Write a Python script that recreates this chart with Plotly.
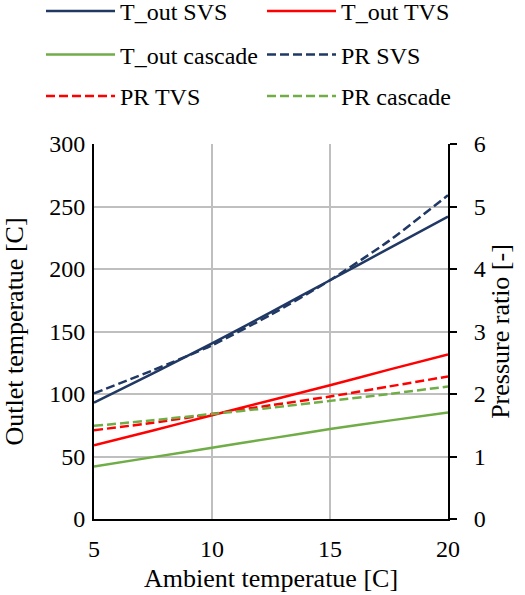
import plotly.graph_objects as go

x = [5, 7.5, 10, 12.5, 15, 17.5, 20]
t_out_svs = [93, 116.5, 140.5, 165.5, 191, 216.5, 242]
t_out_tvs = [59, 70.8, 83, 95, 107, 119.5, 131.7]
t_out_cascade = [42, 49.5, 57, 64.5, 72, 78.7, 85.3]
pr_svs = [2.01, 2.38, 2.78, 3.27, 3.82, 4.45, 5.18]
pr_tvs = [1.42, 1.54, 1.68, 1.82, 1.96, 2.12, 2.28]
pr_cascade = [1.49, 1.58, 1.68, 1.78, 1.89, 2.0, 2.12]

navy = "#203864"
red = "#ff0000"
green = "#70ad47"
FONT = "Liberation Serif"
TF = dict(family=FONT, size=24, color="black")
TITLEF = dict(family=FONT, size=26, color="black")
DASH = "9px,4px"

fig = go.Figure()
fig.add_trace(go.Scatter(x=x, y=t_out_svs, name="T_out SVS", mode="lines", legend="legend",
                         line=dict(color=navy, width=2.5, shape="spline", smoothing=0.6)))
fig.add_trace(go.Scatter(x=x, y=t_out_tvs, name="T_out TVS", mode="lines", legend="legend2",
                         line=dict(color=red, width=2.5, shape="spline", smoothing=0.6)))
fig.add_trace(go.Scatter(x=x, y=t_out_cascade, name="T_out cascade", mode="lines", legend="legend3",
                         line=dict(color=green, width=2.5, shape="spline", smoothing=0.6)))
fig.add_trace(go.Scatter(x=x, y=pr_svs, name="PR SVS", mode="lines", yaxis="y2", legend="legend4",
                         line=dict(color=navy, width=2.5, dash=DASH, shape="spline", smoothing=0.6)))
fig.add_trace(go.Scatter(x=x, y=pr_tvs, name="PR TVS", mode="lines", yaxis="y2", legend="legend5",
                         line=dict(color=red, width=2.5, dash=DASH, shape="spline", smoothing=0.6)))
fig.add_trace(go.Scatter(x=x, y=pr_cascade, name="PR cascade", mode="lines", yaxis="y2", legend="legend6",
                         line=dict(color=green, width=2.5, dash=DASH, shape="spline", smoothing=0.6)))

col_x = [-0.1497, 0.4746]
row_y = [1.3535, 1.2373, 1.1269]
legend_pos = [(0, 0), (1, 0), (0, 1), (1, 1), (0, 2), (1, 2)]
legend_names = ["legend", "legend2", "legend3", "legend4", "legend5", "legend6"]


def leg(cx, ry):
    return dict(x=col_x[cx], y=row_y[ry], xref="paper", yref="paper", xanchor="left", yanchor="middle",
                orientation="v", itemwidth=69, font=TF, bgcolor="rgba(0,0,0,0)", borderwidth=0)


layout_legends = {name: leg(cx, ry) for name, (cx, ry) in zip(legend_names, legend_pos)}

fig.update_layout(
    width=525, height=595,
    margin=dict(l=94, r=77, t=144, b=76, autoexpand=False),
    paper_bgcolor="white", plot_bgcolor="white",
    font=TF,
    showlegend=True,
    **layout_legends,
    xaxis=dict(range=[5, 20], tickvals=[5, 10, 15, 20], showgrid=True, gridcolor="#bfbfbf", gridwidth=1.5,
               showline=True, linecolor="black", linewidth=2, ticks="", zeroline=False,
               tickfont=TF, ticklabelstandoff=7,
               title=dict(text="Ambient temperatue [C]", standoff=8, font=TITLEF)),
    yaxis=dict(range=[0, 300], dtick=50, showgrid=True, gridcolor="#bfbfbf", gridwidth=1.5,
               showline=True, linecolor="black", linewidth=2, ticks="", zeroline=False,
               tickfont=TF, ticklabelstandoff=2,
               title=dict(text="Outlet temperatue [C]", standoff=20, font=TITLEF)),
    yaxis2=dict(range=[0, 6], dtick=1, overlaying="y", side="right", showgrid=False,
                showline=True, linecolor="black", linewidth=2, ticks="outside", ticklen=7, tickwidth=2,
                tickcolor="black", zeroline=False, tickfont=TF, ticklabelstandoff=12,
                title=dict(text="Pressure ratio [-]", standoff=4, font=TITLEF)),
)

fig.write_html("out.html")
